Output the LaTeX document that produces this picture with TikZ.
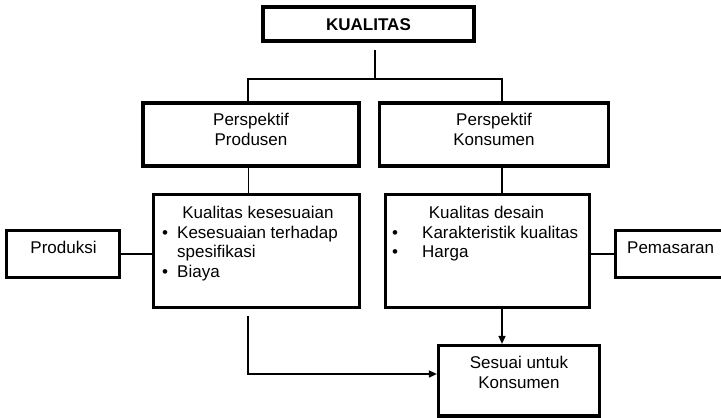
\documentclass[tikz,border=0pt]{standalone}
\usepackage{fontspec}
\setmainfont{Liberation Sans}
\usetikzlibrary{arrows.meta}
\begin{document}
\begin{tikzpicture}[x=1pt,y=-1pt,
  box/.style={draw,line width=3.2pt,inner sep=0pt},
  txt/.style={inner sep=0pt,font=\fontsize{17}{20}\selectfont},
  conn/.style={line width=1.5pt},
  thinconn/.style={line width=0.9pt},
  arr/.style={conn,-{Triangle[length=8pt,width=7pt]}}]
\useasboundingbox (0,0) rectangle (721,418);
% boxes
\node[box,minimum width=211pt,minimum height=34pt] (kual) at (368.5,24) {};
\node[box,minimum width=216pt,minimum height=63pt] (prod) at (251,134.5) {};
\node[box,minimum width=229.5pt,minimum height=63pt] (kons) at (494,134.5) {};
\node[box,minimum width=206pt,minimum height=113pt] (kes) at (256.5,251) {};
\node[box,minimum width=204pt,minimum height=113pt] (des) at (487.5,251) {};
\node[box,minimum width=112.5pt,minimum height=47pt] (produksi) at (63,254) {};
\node[box,minimum width=120pt,minimum height=47pt] (pemasaran) at (675.5,254) {};
\node[box,minimum width=161pt,minimum height=70.5pt] (sesuai) at (519,380.75) {};
% texts
\node[txt,anchor=base] (tkual) at (368.5,30) {\bfseries KUALITAS};
\node[txt,anchor=base] (tprod1) at (251,125) {Perspektif};
\node[txt,anchor=base] (tprod2) at (251,145) {Produsen};
\node[txt,anchor=base] (tkons1) at (494,125) {Perspektif};
\node[txt,anchor=base] (tkons2) at (494,145) {Konsumen};
\node[txt,anchor=base] (tkes0) at (258,218) {Kualitas kesesuaian};
\node[txt,anchor=base west] (tkesb1) at (162,238) {•};
\node[txt,anchor=base west] (tkes1) at (177,238) {Kesesuaian terhadap};
\node[txt,anchor=base west] (tkes2) at (177,257) {spesifikasi};
\node[txt,anchor=base west] (tkesb2) at (162,277) {•};
\node[txt,anchor=base west] (tkes3) at (177,277) {Biaya};
\node[txt,anchor=base] (tdes0) at (486.5,218) {Kualitas desain};
\node[txt,anchor=base west] (tdesb1) at (392,238) {•};
\node[txt,anchor=base west] (tdes1) at (422,238) {Karakteristik kualitas};
\node[txt,anchor=base west] (tdesb2) at (392,257) {•};
\node[txt,anchor=base west] (tdes2) at (422,257) {Harga};
\node[txt,anchor=base] (tproduksi) at (63.5,253) {Produksi};
\node[txt,anchor=base west] (tpemasaran) at (627,253) {Pemasaran};
\node[txt,anchor=base] (tses1) at (519,368) {Sesuai untuk};
\node[txt,anchor=base] (tses2) at (519,388) {Konsumen};
% connectors
\coordinate (top) at (375,50);
\coordinate (cM) at (375,79);
\coordinate (cL) at (248,79);
\coordinate (cR) at (502,79);
\coordinate (lstart) at (248,316);
\coordinate (ly) at (0,374);
\coordinate (my) at (0,254);
\draw[conn] (top) -- (cM);
\draw[conn] (prod.north -| cL) -- (cL) -- (cR) -- (kons.north -| cR);
\draw[thinconn] (prod.south -| cL) -- (kes.north -| cL);
\draw[conn] (kons.south -| cR) -- (des.north -| cR);
\draw[conn] (produksi.east |- my) -- (kes.west |- my);
\draw[conn] (des.east |- my) -- (pemasaran.west |- my);
\draw[arr] (des.south -| cR) -- (sesuai.north -| cR);
\draw[arr] (lstart) |- (sesuai.west |- ly);
\end{tikzpicture}
\end{document}
